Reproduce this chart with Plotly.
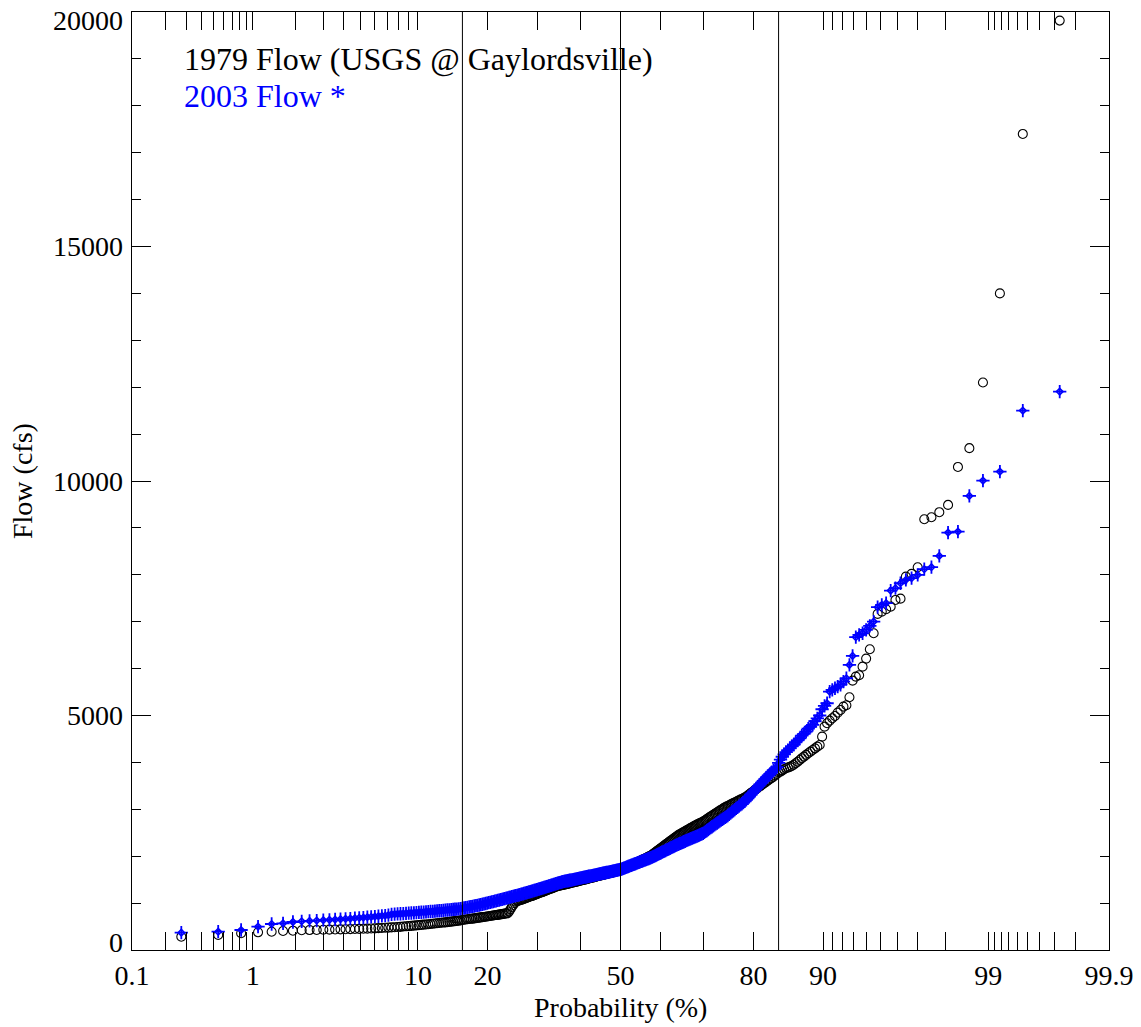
import plotly.graph_objects as go
from statistics import NormalDist

nd = NormalDist()

# ---- data: daily flows (cfs), ascending order ----
flow_1979 = [
    284, 320, 356, 377, 390, 405, 412, 420,
    425, 428, 431, 434, 437, 440, 442, 445, 447, 450, 452, 455,
    458, 462, 466, 470, 474, 478, 482, 486, 490, 494,
    500, 505, 510, 515, 520, 525, 530, 535, 540, 545, 550, 555, 560, 565,
    570, 575, 580, 585, 590, 595, 600, 605, 610, 615, 620, 625, 632, 640,
    645, 650, 655, 660, 665, 670, 675, 680, 685, 690, 695, 700, 705, 710,
    715, 720, 725, 730, 735, 740, 745, 750, 755, 760, 765, 770, 775, 780, 785,
    820, 870, 920, 960, 1000, 1030,
    1040, 1050, 1060, 1070, 1080, 1090, 1100, 1110, 1120, 1130, 1140, 1150,
    1160, 1170, 1180, 1190, 1200, 1210, 1220, 1230, 1240, 1250, 1260, 1270,
    1280, 1290, 1300, 1310, 1320, 1330, 1340, 1350, 1358, 1366, 1372, 1378,
    1382, 1386,
    1392, 1398, 1404, 1410, 1416, 1422, 1428, 1434, 1440, 1446, 1452, 1458,
    1464, 1470, 1476, 1482, 1488, 1494, 1500, 1506, 1512, 1518, 1524, 1530,
    1536, 1542, 1548, 1554, 1560, 1566, 1572, 1578, 1584, 1590, 1596, 1602,
    1608, 1614, 1620, 1626, 1632, 1638, 1644, 1650, 1656, 1662, 1668, 1674,
    1680, 1686, 1692, 1698,
    1710, 1720, 1731, 1742, 1752, 1763, 1775, 1786, 1797, 1808, 1820, 1831,
    1842, 1853, 1865, 1876, 1888, 1899, 1910, 1922, 1933, 1945, 1957, 1968,
    1980, 1992, 2004, 2016, 2030, 2050,
    2068, 2085, 2103, 2120, 2138, 2156, 2174, 2192, 2210, 2228, 2246, 2264,
    2282, 2300, 2318, 2336, 2354, 2372, 2390, 2408, 2426, 2444, 2460, 2474,
    2488, 2502, 2516, 2530, 2545, 2560, 2575, 2590, 2604, 2618, 2632, 2646,
    2660, 2674, 2688, 2700, 2712, 2725, 2737,
    2755, 2773, 2791, 2809, 2827, 2845, 2863, 2881, 2899, 2917, 2935, 2953,
    2971, 2989, 3007, 3024, 3040, 3056,
    3071, 3086, 3101, 3116, 3131, 3146, 3161, 3176, 3191, 3206, 3221, 3236,
    3253, 3270,
    3295, 3320, 3345, 3370, 3395, 3420, 3445, 3470, 3495, 3520, 3545, 3570,
    3595, 3620, 3645, 3670, 3695, 3725, 3753,
    3790, 3803, 3830, 3855, 3875, 3890, 3905, 3924, 3950, 3981, 4015, 4052,
    4090, 4123, 4160, 4194, 4230, 4265, 4300, 4336, 4372,
    4549, 4762, 4834, 4890, 4941, 4990, 5061, 5118, 5189, 5219, 5389, 5743,
    5829, 5858, 6042, 6213, 6413, 6754, 7166, 7215, 7266, 7321, 7464, 7492,
    7961, 8019, 8162, 9185, 9228, 9335, 9490, 10300, 10700, 12100, 14000,
    17400, 19817,
]

flow_2003 = [
    369, 390, 426, 497, 554, 569, 597, 612,
    620, 628, 636, 643, 650, 657, 664, 671, 678, 685, 692, 699, 706, 713,
    720, 727, 735, 745,
    761, 765, 769, 773, 777, 781, 785, 789, 793, 797, 801, 805, 809, 813,
    817, 821, 825, 829, 833, 837, 841, 845, 849, 853, 857, 861, 865, 869,
    873, 877, 882, 889,
    896, 903, 910, 917, 924, 931, 938, 945, 952, 960, 968, 976, 984, 992,
    1000, 1008, 1016, 1024, 1032, 1040, 1048, 1056, 1064, 1072, 1080, 1088,
    1096, 1104, 1112, 1120, 1128, 1136, 1144, 1152, 1160, 1166, 1173,
    1181, 1189, 1197, 1205, 1213, 1221, 1229, 1237, 1245, 1253, 1261, 1269,
    1277, 1285, 1293, 1301, 1309, 1317, 1325, 1333, 1341, 1349, 1357, 1365,
    1373, 1381, 1389, 1397, 1405, 1413, 1421, 1429, 1437, 1444, 1450, 1457,
    1462, 1467, 1472, 1477, 1482, 1487, 1492, 1497, 1502, 1507, 1512, 1517,
    1522, 1527, 1532, 1537, 1542, 1547, 1552, 1557, 1562, 1567, 1572, 1577,
    1582, 1587, 1592, 1597, 1602, 1607, 1612, 1617, 1622, 1627, 1632, 1637,
    1642, 1647, 1652, 1657, 1662, 1667, 1672, 1677, 1682, 1687, 1692, 1697,
    1702, 1707, 1712, 1717,
    1726, 1735, 1744, 1753, 1762, 1771, 1780, 1789, 1798, 1807, 1816, 1825,
    1834, 1843, 1852, 1861, 1870, 1879, 1888, 1897, 1906, 1915, 1924, 1933,
    1942, 1951, 1960, 1970, 1980, 1990,
    2002, 2014, 2026, 2038, 2050, 2062, 2074, 2086, 2098, 2110, 2122, 2134,
    2146, 2158, 2170, 2182, 2194, 2206, 2218, 2230, 2242, 2254, 2265, 2275,
    2286, 2297, 2308, 2319, 2330, 2341, 2352, 2363, 2374, 2385, 2396, 2407,
    2418, 2429, 2440, 2452, 2464, 2476, 2488,
    2508, 2528, 2548, 2568, 2588, 2608, 2628, 2648, 2668, 2688, 2708, 2728,
    2748, 2768, 2788, 2808, 2826, 2843,
    2868, 2893, 2918, 2943, 2968, 2993, 3018, 3043, 3068, 3093, 3118, 3143,
    3170, 3199,
    3236, 3273, 3310, 3347, 3384, 3421, 3458, 3495, 3532, 3569, 3606, 3643,
    3680, 3717, 3754, 3791, 3828, 3862, 3900,
    3990, 4060, 4120, 4170, 4220, 4260, 4301, 4340, 4372, 4430, 4470, 4514,
    4570, 4610, 4656, 4720, 4760, 4798, 4880, 4940, 5000,
    5133, 5204, 5261, 5509, 5545, 5581, 5615, 5651, 5722, 5794, 6078, 6270,
    6669, 6718, 6754, 6824, 6910, 7002, 7309, 7358, 7394, 7663, 7714, 7820,
    7891, 7927, 7997, 8119, 8162, 8403, 8900, 8921, 9682, 10009, 10200,
    11502, 11906,
]

prob_ticks = [0.1, 0.2, 0.3, 0.4, 0.5, 0.6, 0.7, 0.8, 0.9,
              1, 2, 3, 4, 5, 6, 7, 8, 9,
              10, 20, 30, 40, 50, 60, 70, 80,
              90, 91, 92, 93, 94, 95, 96, 97, 98,
              99, 99.1, 99.2, 99.3, 99.4, 99.5, 99.6, 99.7, 99.8, 99.9]
prob_labels = ["0.1", "1", "10", "20", "50", "80", "90", "99", "99.9"]
prob_range = [0.1, 99.9]
sigma_lines = [-1, 0, 1]  # reference lines in standard-normal units

flow_ticks = [0, 5000, 10000, 15000, 20000]
flow_labels = ["0", "5000", "10000", "15000", "20000"]
flow_range = [0, 20000]

series_names = ["1979 Flow (USGS @ Gaylordsville)", "2003 Flow *"]


def prob_to_z(p):
    return nd.inv_cdf(p / 100.0)


def plotting_positions(vals):
    s = sorted(vals)
    n = len(s)
    return [nd.inv_cdf(i / (n + 1)) for i in range(1, n + 1)], s


FONT = "Liberation Serif"
BLUE = "#0000ff"

fig = go.Figure()

x1, y1 = plotting_positions(flow_1979)
fig.add_trace(go.Scatter(
    x=x1, y=y1, mode="markers", name=series_names[0],
    marker=dict(symbol="circle-open", size=9, color="black",
                line=dict(width=1.1, color="black")),
))

# 2003: four-pointed star = thin cross + small hollow diamond core
x2, y2 = plotting_positions(flow_2003)
fig.add_trace(go.Scatter(
    x=x2, y=y2, mode="markers", name=series_names[1],
    marker=dict(symbol="cross-thin-open", size=9.5, color=BLUE,
                line=dict(width=1.8, color=BLUE)),
))
fig.add_trace(go.Scatter(
    x=x2, y=y2, mode="markers", name=series_names[1], showlegend=False,
    marker=dict(symbol="diamond-open", size=5, color=BLUE,
                line=dict(width=1.6, color=BLUE)),
))

tickvals = [prob_to_z(p) for p in prob_ticks]
ticktext = []
for p in prob_ticks:
    lab = ("%g" % p)
    ticktext.append(lab if lab in prob_labels else "")

for z in sigma_lines:
    fig.add_shape(type="line", xref="x", yref="paper", x0=z, x1=z, y0=0, y1=1,
                  line=dict(color="black", width=1), layer="above")

annotations = []
# y tick labels (edge labels nudged inward as in the original)
for v, lab in zip(flow_ticks, flow_labels):
    shift = 0
    if v == flow_range[0]:
        shift = 8
    elif v == flow_range[1]:
        shift = -8
    annotations.append(dict(
        text=lab, xref="paper", yref="y", x=0, y=v, xanchor="right",
        yanchor="middle", xshift=-7, yshift=shift, showarrow=False,
        font=dict(family=FONT, size=28, color="black")))

annotations += [
    dict(text=series_names[0], xref="paper", yref="paper",
         x=(182 - 132) / 977, y=(950 - 59) / 938, xanchor="left",
         yanchor="middle", showarrow=False,
         font=dict(family=FONT, size=32, color="black")),
    dict(text=series_names[1], xref="paper", yref="paper",
         x=(182 - 132) / 977, y=(950 - 96) / 938, xanchor="left",
         yanchor="middle", showarrow=False,
         font=dict(family=FONT, size=32, color=BLUE)),
    dict(text="Probability (%)", xref="paper", yref="paper",
         x=0.5, y=-(1008 - 950) / 938, xanchor="center",
         yanchor="middle", showarrow=False,
         font=dict(family=FONT, size=28, color="black")),
    dict(text="Flow (cfs)", xref="paper", yref="paper",
         x=-(132 - 22) / 977, y=0.5, xanchor="center",
         yanchor="middle", textangle=-90, showarrow=False,
         font=dict(family=FONT, size=28, color="black")),
]

fig.update_layout(
    width=1141, height=1027,
    margin=dict(l=132, r=32, t=12, b=77, autoexpand=False),
    paper_bgcolor="white", plot_bgcolor="white",
    showlegend=False,
    font=dict(family=FONT, size=28, color="black"),
    xaxis=dict(
        range=[prob_to_z(prob_range[0]), prob_to_z(prob_range[1])],
        tickmode="array", tickvals=tickvals, ticktext=ticktext,
        ticks="inside", ticklen=18, tickwidth=1, tickcolor="black",
        showline=True, linecolor="black", linewidth=1, mirror="allticks",
        showgrid=False, zeroline=False, automargin=False,
        ticklabelstandoff=0, ticklabeloverflow="allow",
        tickfont=dict(family=FONT, size=28, color="black"),
    ),
    yaxis=dict(
        range=flow_range, tickmode="array", tickvals=flow_ticks,
        showticklabels=False,
        ticks="inside", ticklen=19, tickwidth=1, tickcolor="black",
        showline=True, linecolor="black", linewidth=1, mirror="allticks",
        showgrid=False, zeroline=False, automargin=False,
        minor=dict(dtick=1000, tick0=0, ticks="inside", ticklen=9,
                   tickwidth=1, tickcolor="black", showgrid=False),
    ),
    annotations=annotations,
)

fig.write_html("out.html")
